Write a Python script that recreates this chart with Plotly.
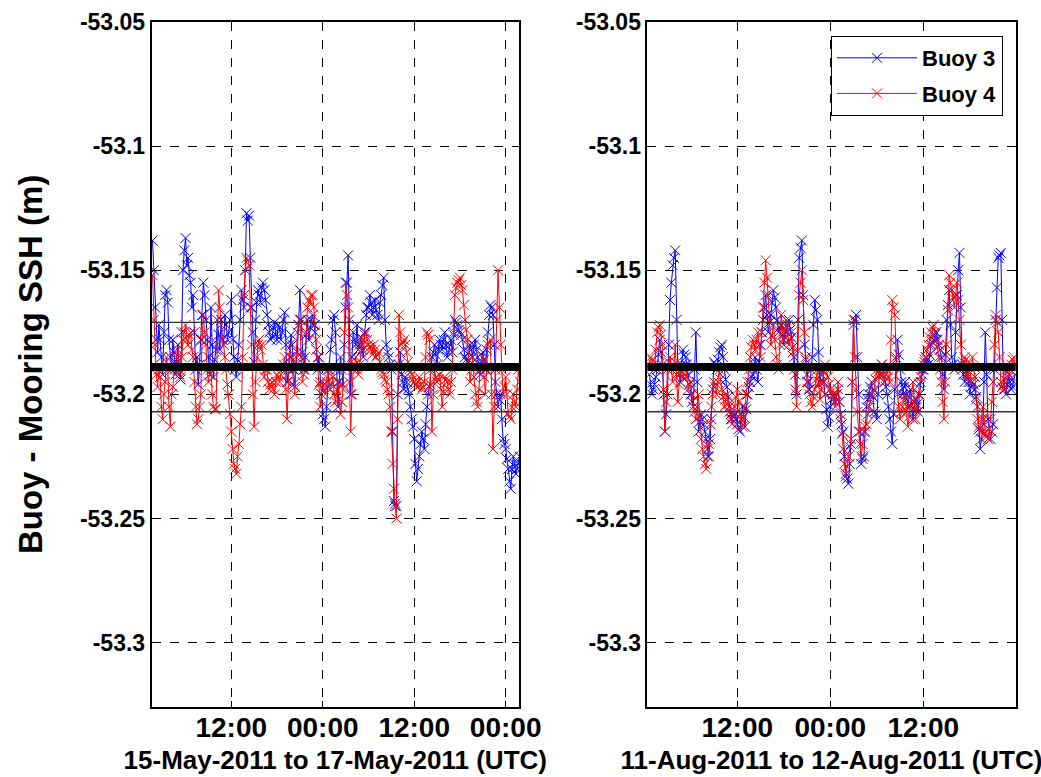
import pandas as pd
import plotly.graph_objects as go

# ---------------- data ----------------
# readings every 20 min starting at *_start, plus in-between readings
# starting at *_mid_start (also every 20 min)
may_start = "2011-05-15 01:40"
may_mid_start = "2011-05-15 01:50"
aug_start = "2011-08-11 00:40"
aug_mid_start = "2011-08-11 00:50"
sample_step = "20min"

may_buoy3 = [
    -53.138, -53.165, -53.183, -53.178, -53.192, -53.160, -53.163, -53.185, -53.178,
    -53.192, -53.180, -53.194, -53.150, -53.137, -53.145, -53.155, -53.160, -53.190,
    -53.196, -53.178, -53.155, -53.170, -53.185, -53.165, -53.193, -53.182, -53.176,
    -53.170, -53.180, -53.172, -53.175, -53.162, -53.185, -53.193, -53.180, -53.158,
    -53.165, -53.127, -53.128, -53.165, -53.187, -53.163, -53.160, -53.157, -53.158,
    -53.168, -53.175, -53.177, -53.171, -53.178, -53.173, -53.175, -53.167, -53.195,
    -53.185, -53.180, -53.197, -53.183, -53.158, -53.183, -53.185, -53.170, -53.173,
    -53.168, -53.175, -53.190, -53.195, -53.208, -53.213, -53.197, -53.182, -53.170,
    -53.175, -53.205, -53.185, -53.196, -53.165, -53.144, -53.200, -53.175, -53.180,
    -53.182, -53.177, -53.185, -53.168, -53.165, -53.163, -53.165, -53.166, -53.170,
    -53.160, -53.153, -53.180, -53.185, -53.190, -53.243, -53.245, -53.188, -53.192,
    -53.198, -53.195, -53.200, -53.210, -53.218, -53.235, -53.225, -53.215, -53.222,
    -53.205, -53.197, -53.185, -53.180, -53.188, -53.178, -53.182, -53.175, -53.185,
    -53.180, -53.183, -53.170, -53.172, -53.175, -53.178, -53.185, -53.187, -53.180,
    -53.185, -53.178, -53.185, -53.192, -53.183, -53.190, -53.175, -53.164, -53.168,
    -53.195, -53.205, -53.200, -53.218, -53.222, -53.230, -53.238, -53.225, -53.232,
    -53.228,
]
may_buoy3_mid = [
    -53.150, -53.178, -53.172, -53.185, -53.175, -53.158, -53.178, -53.190, -53.183,
    -53.186, -53.192, -53.175, -53.142, -53.148, -53.152, -53.165, -53.175, -53.185,
    -53.188, -53.168, -53.160, -53.178, -53.192, -53.180, -53.186, -53.170, -53.182,
    -53.178, -53.168, -53.178, -53.170, -53.178, -53.190, -53.186, -53.170, -53.162,
    -53.150, -53.130, -53.145, -53.175, -53.170, -53.158, -53.163, -53.155, -53.162,
    -53.172, -53.178, -53.173, -53.176, -53.172, -53.178, -53.170, -53.180, -53.190,
    -53.176, -53.190, -53.188, -53.172, -53.170, -53.190, -53.176, -53.178, -53.170,
    -53.172, -53.182, -53.185, -53.200, -53.210, -53.205, -53.190, -53.178, -53.168,
    -53.190, -53.195, -53.190, -53.180, -53.155, -53.170, -53.185, -53.178, -53.172,
    -53.180, -53.182, -53.175, -53.165, -53.160, -53.168, -53.162, -53.168, -53.163,
    -53.156, -53.170, -53.183, -53.188, -53.215, -53.244, -53.200, -53.183, -53.195,
    -53.193, -53.198, -53.205, -53.213, -53.228, -53.230, -53.220, -53.218, -53.212,
    -53.200, -53.190, -53.183, -53.184, -53.182, -53.180, -53.178, -53.180, -53.183,
    -53.178, -53.176, -53.171, -53.174, -53.176, -53.182, -53.186, -53.183, -53.182,
    -53.180, -53.182, -53.188, -53.187, -53.186, -53.182, -53.168, -53.165, -53.180,
    -53.200, -53.202, -53.210, -53.220, -53.226, -53.235, -53.230, -53.228, -53.230,
    -53.225,
]

may_buoy4 = [
    -53.152, -53.180, -53.197, -53.193, -53.210, -53.195, -53.190, -53.213, -53.197,
    -53.188, -53.182, -53.193, -53.178, -53.172, -53.180, -53.175, -53.185, -53.205,
    -53.210, -53.200, -53.168, -53.180, -53.195, -53.190, -53.205, -53.206, -53.158,
    -53.172, -53.180, -53.190, -53.200, -53.215, -53.228, -53.232, -53.220, -53.205,
    -53.160, -53.145, -53.148, -53.180, -53.213, -53.185, -53.178, -53.180, -53.193,
    -53.190, -53.198, -53.195, -53.200, -53.192, -53.195, -53.190, -53.185, -53.210,
    -53.180, -53.190, -53.200, -53.175, -53.170, -53.195, -53.190, -53.165, -53.163,
    -53.160, -53.172, -53.185, -53.205, -53.195, -53.200, -53.190, -53.198, -53.193,
    -53.203, -53.195, -53.208, -53.198, -53.155, -53.165, -53.215, -53.190, -53.185,
    -53.192, -53.183, -53.178, -53.175, -53.180, -53.182, -53.180, -53.185, -53.183,
    -53.190, -53.192, -53.195, -53.200, -53.215, -53.238, -53.250, -53.168, -53.180,
    -53.178, -53.183, -53.190, -53.192, -53.195, -53.197, -53.193, -53.198, -53.195,
    -53.175, -53.178, -53.215, -53.190, -53.195, -53.192, -53.205, -53.193, -53.195,
    -53.200, -53.190, -53.160, -53.155, -53.153, -53.158, -53.170, -53.178, -53.195,
    -53.185, -53.200, -53.205, -53.190, -53.185, -53.200, -53.180, -53.178, -53.222,
    -53.190, -53.150, -53.180, -53.200, -53.193, -53.208, -53.210, -53.200, -53.205,
    -53.190,
]
may_buoy4_mid = [
    -53.170, -53.192, -53.190, -53.205, -53.200, -53.185, -53.205, -53.200, -53.190,
    -53.185, -53.190, -53.185, -53.175, -53.178, -53.176, -53.182, -53.195, -53.212,
    -53.205, -53.178, -53.175, -53.190, -53.192, -53.200, -53.206, -53.180, -53.165,
    -53.178, -53.185, -53.196, -53.208, -53.222, -53.230, -53.225, -53.212, -53.185,
    -53.150, -53.146, -53.165, -53.200, -53.195, -53.180, -53.182, -53.188, -53.190,
    -53.195, -53.196, -53.198, -53.195, -53.193, -53.192, -53.188, -53.198, -53.195,
    -53.185, -53.196, -53.185, -53.172, -53.185, -53.192, -53.175, -53.162, -53.160,
    -53.165, -53.178, -53.196, -53.200, -53.198, -53.195, -53.194, -53.196, -53.200,
    -53.198, -53.202, -53.203, -53.175, -53.160, -53.195, -53.200, -53.188, -53.190,
    -53.188, -53.180, -53.176, -53.178, -53.181, -53.184, -53.182, -53.184, -53.187,
    -53.191, -53.194, -53.198, -53.205, -53.228, -53.245, -53.210, -53.175, -53.179,
    -53.180, -53.187, -53.191, -53.194, -53.196, -53.195, -53.196, -53.197, -53.185,
    -53.176, -53.196, -53.200, -53.193, -53.194, -53.198, -53.199, -53.194, -53.198,
    -53.195, -53.175, -53.157, -53.154, -53.156, -53.164, -53.174, -53.186, -53.190,
    -53.193, -53.203, -53.198, -53.188, -53.193, -53.190, -53.179, -53.200, -53.205,
    -53.170, -53.165, -53.190, -53.197, -53.200, -53.209, -53.205, -53.203, -53.198,
    -53.195,
]

aug_buoy3 = [
    -53.192, -53.200, -53.196, -53.190, -53.178, -53.188, -53.215, -53.200, -53.162,
    -53.148, -53.142, -53.188, -53.195, -53.182, -53.185, -53.192, -53.200, -53.205,
    -53.175, -53.215, -53.208, -53.212, -53.218, -53.225, -53.210, -53.187, -53.190,
    -53.183, -53.180, -53.190, -53.197, -53.205, -53.210, -53.208, -53.212, -53.215,
    -53.205, -53.213, -53.200, -53.195, -53.192, -53.185, -53.195, -53.180, -53.170,
    -53.160, -53.175, -53.168, -53.158, -53.165, -53.175, -53.172, -53.180, -53.175,
    -53.170, -53.177, -53.185, -53.200, -53.145, -53.138, -53.180, -53.192, -53.198,
    -53.185, -53.162, -53.170, -53.195, -53.190, -53.200, -53.213,
    -53.205, -53.200, -53.203, -53.198, -53.208, -53.215, -53.232, -53.236, -53.220,
    -53.172, -53.168, -53.200, -53.228, -53.225, -53.205, -53.200, -53.195, -53.207,
    -53.210, -53.192, -53.188, -53.195, -53.200, -53.210, -53.220, -53.198, -53.178,
    -53.190, -53.200, -53.195, -53.205, -53.198, -53.210, -53.202, -53.207, -53.195,
    -53.190, -53.185, -53.188, -53.180, -53.178, -53.175, -53.180, -53.185, -53.198,
    -53.170, -53.158, -53.185, -53.190, -53.160, -53.143, -53.188, -53.195, -53.190,
    -53.200, -53.195, -53.198, -53.205, -53.222, -53.215, -53.175, -53.210, -53.218,
    -53.212, -53.170, -53.145, -53.143, -53.196, -53.200, -53.193, -53.198, -53.195,
]
aug_buoy3_mid = [
    -53.196, -53.198, -53.193, -53.184, -53.183, -53.200, -53.208, -53.180, -53.155,
    -53.145, -53.170, -53.192, -53.188, -53.184, -53.188, -53.196, -53.203, -53.190,
    -53.195, -53.211, -53.210, -53.215, -53.222, -53.218, -53.198, -53.188, -53.186,
    -53.181, -53.185, -53.194, -53.201, -53.208, -53.209, -53.210, -53.214, -53.210,
    -53.209, -53.206, -53.197, -53.193, -53.188, -53.190, -53.187, -53.175, -53.165,
    -53.168, -53.171, -53.163, -53.161, -53.170, -53.173, -53.176, -53.177, -53.172,
    -53.174, -53.181, -53.192, -53.170, -53.141, -53.160, -53.186, -53.195, -53.190,
    -53.172, -53.166, -53.183, -53.192, -53.195, -53.206, -53.209,
    -53.202, -53.201, -53.200, -53.203, -53.212, -53.225, -53.234, -53.228, -53.195,
    -53.170, -53.185, -53.215, -53.226, -53.215, -53.202, -53.197, -53.201, -53.208,
    -53.200, -53.190, -53.191, -53.197, -53.205, -53.215, -53.208, -53.186, -53.184,
    -53.195, -53.197, -53.200, -53.201, -53.204, -53.206, -53.204, -53.200, -53.192,
    -53.187, -53.186, -53.184, -53.179, -53.176, -53.178, -53.182, -53.192, -53.184,
    -53.164, -53.172, -53.188, -53.175, -53.150, -53.165, -53.192, -53.192, -53.195,
    -53.197, -53.196, -53.201, -53.214, -53.218, -53.195, -53.192, -53.214, -53.215,
    -53.190, -53.157, -53.144, -53.170, -53.198, -53.196, -53.195, -53.197, -53.192,
]

aug_buoy4 = [
    -53.188, -53.186, -53.190, -53.175, -53.172, -53.180, -53.215, -53.190, -53.185,
    -53.195, -53.180, -53.203, -53.190, -53.193, -53.188, -53.198, -53.195, -53.205,
    -53.210, -53.200, -53.218, -53.225, -53.230, -53.220, -53.205, -53.195, -53.200,
    -53.190, -53.198, -53.205, -53.200, -53.207, -53.212, -53.205, -53.198, -53.208,
    -53.213, -53.205, -53.195, -53.185, -53.178, -53.182, -53.175, -53.185, -53.165,
    -53.146, -53.160, -53.180, -53.172, -53.185, -53.190, -53.168, -53.178, -53.170,
    -53.180, -53.175, -53.190, -53.205, -53.160, -53.150, -53.175, -53.195, -53.200,
    -53.205, -53.198, -53.190, -53.202, -53.195, -53.188, -53.193,
    -53.198, -53.200, -53.205, -53.195, -53.210, -53.222, -53.233, -53.225, -53.218,
    -53.170, -53.198, -53.215, -53.225, -53.215, -53.212, -53.205, -53.200, -53.198,
    -53.190, -53.193, -53.188, -53.195, -53.190, -53.195, -53.162, -53.168, -53.200,
    -53.210, -53.205, -53.200, -53.213, -53.205, -53.195, -53.210, -53.200, -53.193,
    -53.188, -53.185, -53.180, -53.175, -53.172, -53.178, -53.185, -53.195, -53.210,
    -53.180, -53.152, -53.158, -53.165, -53.155, -53.170, -53.190, -53.185, -53.188,
    -53.195, -53.185, -53.193, -53.210, -53.215, -53.205, -53.215, -53.218, -53.210,
    -53.195, -53.168, -53.175, -53.195, -53.198, -53.190, -53.192, -53.188, -53.185,
]
aug_buoy4_mid = [
    -53.185, -53.188, -53.182, -53.173, -53.176, -53.198, -53.203, -53.187, -53.190,
    -53.188, -53.192, -53.196, -53.191, -53.190, -53.193, -53.196, -53.200, -53.207,
    -53.205, -53.209, -53.222, -53.228, -53.225, -53.212, -53.200, -53.197, -53.195,
    -53.194, -53.201, -53.202, -53.204, -53.210, -53.208, -53.201, -53.203, -53.210,
    -53.209, -53.200, -53.190, -53.181, -53.180, -53.178, -53.180, -53.175, -53.155,
    -53.153, -53.170, -53.176, -53.178, -53.188, -53.180, -53.173, -53.174, -53.175,
    -53.178, -53.183, -53.198, -53.182, -53.155, -53.162, -53.185, -53.198, -53.203,
    -53.201, -53.194, -53.196, -53.198, -53.191, -53.190, -53.196,
    -53.199, -53.203, -53.200, -53.203, -53.216, -53.228, -53.229, -53.221, -53.195,
    -53.185, -53.207, -53.220, -53.220, -53.213, -53.208, -53.202, -53.199, -53.194,
    -53.191, -53.190, -53.192, -53.192, -53.193, -53.178, -53.165, -53.185, -53.205,
    -53.207, -53.202, -53.207, -53.209, -53.200, -53.203, -53.205, -53.196, -53.190,
    -53.186, -53.182, -53.177, -53.173, -53.175, -53.181, -53.190, -53.203, -53.195,
    -53.166, -53.155, -53.161, -53.160, -53.162, -53.180, -53.187, -53.186, -53.192,
    -53.190, -53.189, -53.202, -53.213, -53.210, -53.210, -53.217, -53.214, -53.203,
    -53.180, -53.171, -53.185, -53.197, -53.194, -53.191, -53.190, -53.186, -53.188,
]

mean_offset = -53.189
band_upper = -53.171
band_lower = -53.207

y_range = [-53.3258, -53.05]
y_tick_vals = [-53.3, -53.25, -53.2, -53.15, -53.1, -53.05]
y_tick_text = ["-53.3", "-53.25", "-53.2", "-53.15", "-53.1", "-53.05"]

may_range = ["2011-05-15 01:32", "2011-05-17 01:45"]
may_tick_vals = ["2011-05-15 12:00", "2011-05-16 00:00", "2011-05-16 12:00", "2011-05-17 00:00"]
may_tick_text = ["12:00", "00:00", "12:00", "00:00"]
aug_range = ["2011-08-11 00:24", "2011-08-12 23:55"]
aug_tick_vals = ["2011-08-11 12:00", "2011-08-12 00:00", "2011-08-12 12:00"]
aug_tick_text = ["12:00", "00:00", "12:00"]

may_title = "15-May-2011 to 17-May-2011 (UTC)"
aug_title = "11-Aug-2011 to 12-Aug-2011 (UTC)"
y_title = "Buoy - Mooring SSH (m)"
series_names = ["Buoy 3", "Buoy 4"]
series_colors = ["#0000FF", "#FF0000"]


# ---------------- figure ----------------
def series(start, values, mid_start, mid_values):
    a = pd.Series(values, index=pd.date_range(start, periods=len(values), freq=sample_step))
    b = pd.Series(mid_values, index=pd.date_range(mid_start, periods=len(mid_values), freq=sample_step))
    return pd.concat([a, b]).sort_index()


may_s3 = series(may_start, may_buoy3, may_mid_start, may_buoy3_mid)
may_s4 = series(may_start, may_buoy4, may_mid_start, may_buoy4_mid)
aug_s3 = series(aug_start, aug_buoy3, aug_mid_start, aug_buoy3_mid)
aug_s4 = series(aug_start, aug_buoy4, aug_mid_start, aug_buoy4_mid)

FONT = "Liberation Sans, Arial, Helvetica, sans-serif"
fig = go.Figure()


def add_series(s, name, color, xa, ya, show):
    fig.add_trace(go.Scatter(
        x=s.index, y=s.values, name=name, mode="lines+markers",
        line=dict(color=color, width=1),
        marker=dict(symbol="x-thin", size=10, color=color,
                    line=dict(color=color, width=1)),
        xaxis=xa, yaxis=ya, showlegend=show, legendgroup=name,
    ))


add_series(may_s3, series_names[0], series_colors[0], "x", "y", False)
add_series(may_s4, series_names[1], series_colors[1], "x", "y", False)
add_series(aug_s3, series_names[0], series_colors[0], "x2", "y2", True)
add_series(aug_s4, series_names[1], series_colors[1], "x2", "y2", True)

for xr, yr in (("x", "y"), ("x2", "y2")):
    for val, w, c in ((band_upper, 1.3, "#333333"), (band_lower, 1.3, "#333333"),
                      (mean_offset, 8, "black")):
        fig.add_shape(type="line", xref=f"{xr} domain", x0=0, x1=1,
                      yref=yr, y0=val, y1=val,
                      line=dict(color=c, width=w), layer="above")

ytickfont = dict(family=FONT, size=23, color="black", weight="bold")
xtickfont = dict(family=FONT, size=28, color="black", weight="bold")
common_x = dict(
    showline=True, mirror=True, linecolor="black", linewidth=1.5,
    showgrid=True, gridcolor="black", griddash="dash", gridwidth=1,
    ticks="inside", ticklen=6, tickcolor="black", tickfont=xtickfont,
    zeroline=False, type="date", automargin=False, ticklabelstandoff=-5,
)
common_y = dict(
    showline=True, mirror=True, linecolor="black", linewidth=1.5,
    showgrid=True, gridcolor="black", griddash="dash", gridwidth=1,
    ticks="inside", ticklen=6, tickcolor="black", tickfont=ytickfont,
    zeroline=False, range=y_range, tickvals=y_tick_vals, ticktext=y_tick_text,
    automargin=False,
)

W, H = 1041, 777
xtitle_font = dict(family=FONT, size=26, weight="bold")
fig.update_layout(
    width=W, height=H, autosize=False,
    margin=dict(l=0, r=0, t=0, b=0),
    paper_bgcolor="white", plot_bgcolor="white",
    font=dict(family=FONT, color="black"),
    xaxis=dict(common_x, domain=[151.5 / W, 519 / W], range=may_range, anchor="y",
               tickvals=may_tick_vals, ticktext=may_tick_text,
               title=dict(text=may_title, standoff=9, font=xtitle_font)),
    xaxis2=dict(common_x, domain=[647.3 / W, 1015.7 / W], range=aug_range, anchor="y2",
                tickvals=aug_tick_vals, ticktext=aug_tick_text,
                title=dict(text=aug_title, standoff=9, font=xtitle_font)),
    yaxis=dict(common_y, domain=[1 - 706.7 / H, 1 - 22 / H], anchor="x",
               title=dict(text=y_title, standoff=27,
                          font=dict(family=FONT, size=33, weight="bold"))),
    yaxis2=dict(common_y, domain=[1 - 706.7 / H, 1 - 22 / H], anchor="x2"),
    legend=dict(x=1003 / W, xanchor="right", y=1 - 36 / H, yanchor="top",
                bgcolor="white", bordercolor="black", borderwidth=1,
                font=dict(family=FONT, size=22, weight="bold"),
                itemwidth=80, tracegroupgap=4),
)

fig.write_html("out.html", config={"displayModeBar": False},
               post_script="document.body.style.margin='0';document.body.style.padding='0';")
